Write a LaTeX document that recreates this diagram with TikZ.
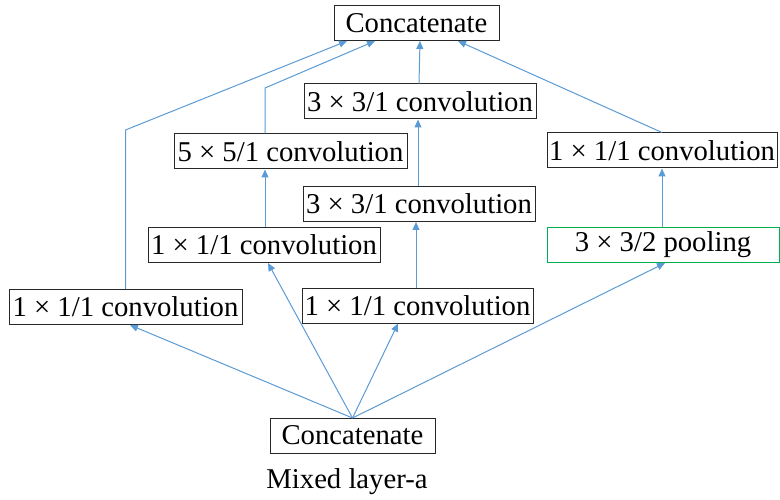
\documentclass[tikz,border=0pt]{standalone}
\usepackage{fontspec}
\setmainfont{Liberation Serif}
\usetikzlibrary{arrows.meta}
\definecolor{linkblue}{RGB}{91,155,213}
\definecolor{boxgray}{RGB}{40,40,40}
\definecolor{poolgreen}{RGB}{0,176,80}
\begin{document}
\begin{tikzpicture}[x=1pt,y=-1pt,
  opbox/.style={draw=boxgray,line width=1pt,inner sep=0pt,minimum height=35pt,
    font=\fontsize{28.7}{30}\selectfont},
  poolbox/.style={opbox,draw=poolgreen},
  link/.style={draw=linkblue,line width=1pt,-{Triangle[length=8pt,width=7pt]}}]
\useasboundingbox (0,0) rectangle (780,500);

% operation boxes
\node[opbox,minimum width=165pt] (topc) at (416.5,23) {Concatenate};
\node[opbox,minimum width=232pt] (c33a) at (420,101.5) {3 × 3/1 convolution};
\node[opbox,minimum width=233pt] (c55)  at (290.5,151.5) {5 × 5/1 convolution};
\node[opbox,minimum width=230pt] (c11r) at (662,150.5) {1 × 1/1 convolution};
\node[opbox,minimum width=232pt] (c33b) at (419,204) {3 × 3/1 convolution};
\node[opbox,minimum width=232pt] (c11m) at (264,245) {1 × 1/1 convolution};
\node[poolbox,minimum width=232pt] (pool) at (663,245) {3 × 3/2 pooling};
\node[opbox,minimum width=233pt] (c11l) at (125.5,307) {1 × 1/1 convolution};
\node[opbox,minimum width=231pt] (c11b) at (417.5,305.5) {1 × 1/1 convolution};
\node[opbox,minimum width=165pt] (botc) at (352.5,435.5) {Concatenate};
\node[font=\fontsize{28.7}{30}\selectfont] (cap) at (347,482) {Mixed layer-a};

% bend points of the two left branches
\coordinate (bl) at (c11l.north |- 0,130);
\coordinate (bm) at (265,88);

% into the upper concatenation
\draw[link] (c11l.north) -- (bl) -- ([xshift=-69.5pt]topc.south);
\draw[link] ([xshift=-25.5pt]c55.north) -- (bm) -- ([xshift=-41.5pt]topc.south);
\draw[link] ([xshift=-1pt]c33a.north) -- ([xshift=3.5pt]topc.south);
\draw[link] (c11r.north) -- ([xshift=41.5pt]topc.south);

% vertical chains
\draw[link] (pool.north -| c11r.north) -- (c11r.south);
\draw[link] ([xshift=-1.5pt]c11b.north) -- ([xshift=-3pt]c33b.south);
\draw[link] ([xshift=-1pt]c33b.north) -- ([xshift=-2pt]c33a.south);
\draw[link] ([xshift=1pt]c11m.north) -- ([xshift=-25.5pt]c55.south);

% out of the lower concatenation
\coordinate (src) at (352.5,418);
\draw[link] (src) -- ([xshift=4.5pt]c11l.south);
\draw[link] (src) -- ([xshift=4pt]c11m.south);
\draw[link] (src) -- ([xshift=-19.5pt]c11b.south);
\draw[link] (src) -- ([xshift=2pt]pool.south);
\end{tikzpicture}
\end{document}
